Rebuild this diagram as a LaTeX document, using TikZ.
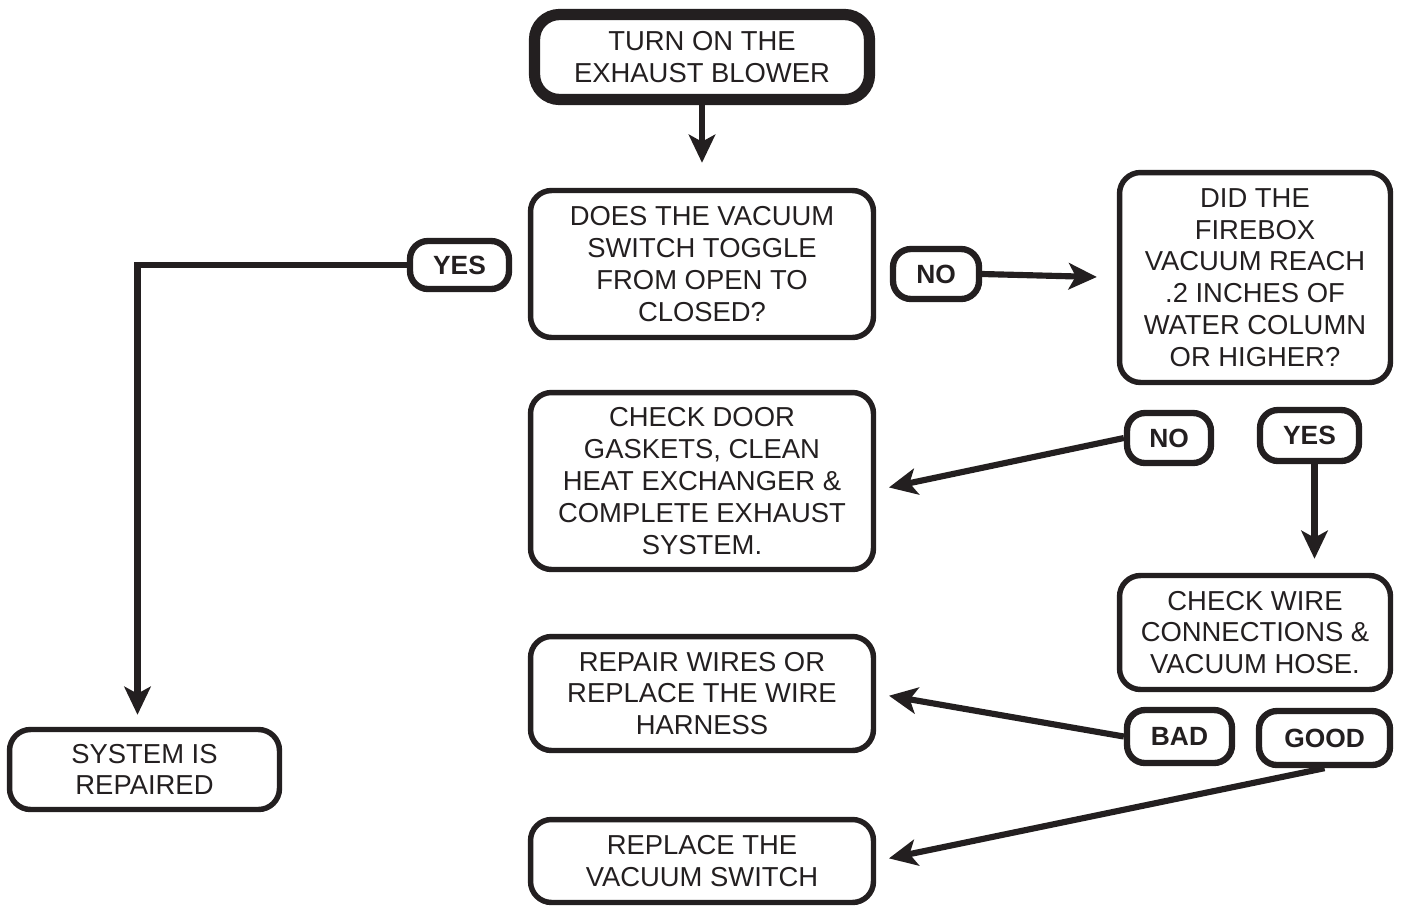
\documentclass[tikz,border=0pt]{standalone}
\usepackage{fontspec}
\setmainfont{Liberation Sans}
\usetikzlibrary{arrows.meta}
\definecolor{ink}{HTML}{231F20}
\tikzset{
  box/.style={draw=ink, text=ink, line width=3.1pt, rounded corners=0.42cm, align=center,
    inner sep=0pt, font=\fontsize{15.6}{18.1}\selectfont},
  bigbox/.style={box, line width=6.4pt, rounded corners=0.5cm},
  tag/.style={draw=ink, text=ink, line width=3.6pt, rounded corners=0.36cm, align=center,
    inner sep=0pt, font=\fontsize{15}{18}\selectfont\bfseries},
  conn/.style={draw=ink, line width=3.5pt, -{Stealth[length=16pt,width=15pt,inset=4pt]}}
}
\begin{document}
\begin{tikzpicture}[x=0.02cm, y=-0.02cm]
  \useasboundingbox (0,0) rectangle (1405,907);
  % Coordinates
  \coordinate (A) at (702, 57);
  \coordinate (B) at (702, 264);
  \coordinate (C) at (1255, 277.5);
  \coordinate (D) at (702, 481);
  \coordinate (E) at (1255, 632.5);
  \coordinate (F) at (702, 693.5);
  \coordinate (G) at (702, 861);
  \coordinate (H) at (144.5, 769.5);
  \coordinate (Y1) at (459.5, 265);
  \coordinate (N1) at (936, 274);
  \coordinate (N2) at (1169, 438);
  \coordinate (Y2) at (1309.5, 435.5);
  \coordinate (B1) at (1179.5, 736.5);
  \coordinate (G1) at (1324.5, 738);

  % Boxes
  \node[bigbox, minimum width=6.7cm, minimum height=1.7cm] (blower) at (A) {TURN ON THE\\EXHAUST BLOWER};
  \node[box, minimum width=6.86cm, minimum height=2.94cm] (toggle) at (B) {DOES THE VACUUM\\SWITCH TOGGLE\\FROM OPEN TO\\CLOSED?};
  \node[box, minimum width=5.42cm, minimum height=4.2cm] (firebox) at (C) {DID THE\\FIREBOX\\VACUUM REACH\\.2 INCHES OF\\WATER COLUMN\\OR HIGHER?};
  \node[box, minimum width=6.86cm, minimum height=3.54cm] (gaskets) at (D) {CHECK DOOR\\GASKETS, CLEAN\\HEAT EXCHANGER \&\\COMPLETE EXHAUST\\SYSTEM.};
  \node[box, minimum width=5.42cm, minimum height=2.28cm] (wires) at (E) {CHECK WIRE\\CONNECTIONS \&\\VACUUM HOSE.};
  \node[box, minimum width=6.86cm, minimum height=2.28cm] (repair) at (F) {REPAIR WIRES OR\\REPLACE THE WIRE\\HARNESS};
  \node[box, minimum width=6.86cm, minimum height=1.66cm] (replace) at (G) {REPLACE THE\\VACUUM SWITCH};
  \node[box, minimum width=5.4cm, minimum height=1.6cm] (repaired) at (H) {SYSTEM IS\\REPAIRED};

  % Answers
  \node[tag, minimum width=1.98cm, minimum height=0.96cm] (yes1) at (Y1) {YES};
  \node[tag, minimum width=1.72cm, minimum height=1.0cm] (no1) at (N1) {NO};
  \node[tag, minimum width=1.68cm, minimum height=1.0cm] (no2) at (N2) {NO};
  \node[tag, minimum width=1.98cm, minimum height=1.02cm] (yes2) at (Y2) {YES};
  \node[tag, minimum width=2.1cm, minimum height=1.06cm] (bad) at (B1) {BAD};
  \node[tag, minimum width=2.62cm, minimum height=1.08cm] (good) at (G1) {GOOD};

  % Arrows
  \draw[conn, shorten >=0.5cm] (blower.south) -- (toggle.north);
  \draw[conn, shorten >=0.24cm] (yes1.west) -| ([xshift=-0.14cm]repaired.north);
  \draw[conn, shorten >=0.4cm] (no1.east) -- (firebox.west);
  \draw[conn, shorten >=0.26cm] (no2.west) -- (gaskets.-3.6);
  \draw[conn, shorten >=0.28cm] ([xshift=0.1cm]yes2.south) -- ([xshift=0.1cm]yes2.south |- wires.north);
  \draw[conn, shorten >=0.26cm] (bad.west) -- (repair.east);
  \draw[conn, shorten >=0.26cm] (good.south) -- (replace.east);
\end{tikzpicture}
\end{document}
